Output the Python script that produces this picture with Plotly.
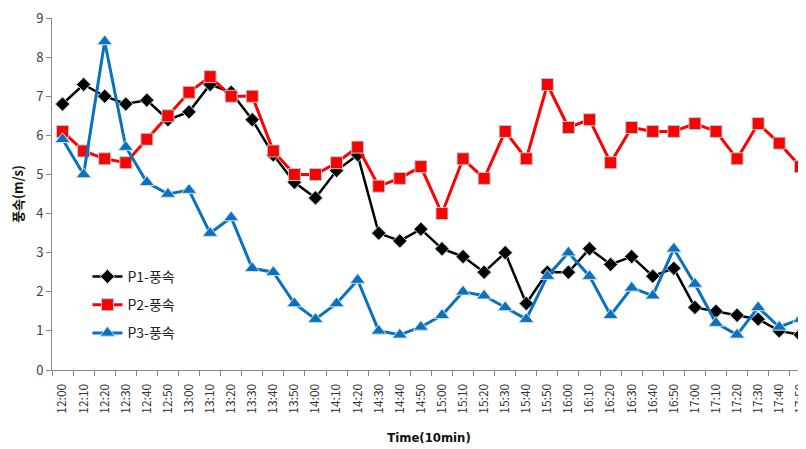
import plotly.graph_objects as go

times = ["12:00","12:10","12:20","12:30","12:40","12:50","13:00","13:10","13:20","13:30","13:40","13:50",
         "14:00","14:10","14:20","14:30","14:40","14:50","15:00","15:10","15:20","15:30","15:40","15:50",
         "16:00","16:10","16:20","16:30","16:40","16:50","17:00","17:10","17:20","17:30","17:40","17:50"]

p1 = [6.8,7.3,7.0,6.8,6.9,6.4,6.6,7.3,7.1,6.4,5.5,4.8,
      4.4,5.1,5.5,3.5,3.3,3.6,3.1,2.9,2.5,3.0,1.7,2.5,
      2.5,3.1,2.7,2.9,2.4,2.6,1.6,1.5,1.4,1.3,1.0,0.9]
p2 = [6.1,5.6,5.4,5.3,5.9,6.5,7.1,7.5,7.0,7.0,5.6,5.0,
      5.0,5.3,5.7,4.7,4.9,5.2,4.0,5.4,4.9,6.1,5.4,7.3,
      6.2,6.4,5.3,6.2,6.1,6.1,6.3,6.1,5.4,6.3,5.8,5.2]
p3 = [5.9,5.0,8.4,5.7,4.8,4.5,4.6,3.5,3.9,2.6,2.5,1.7,
      1.3,1.7,2.3,1.0,0.9,1.1,1.4,2.0,1.9,1.6,1.3,2.4,
      3.0,2.4,1.4,2.1,1.9,3.1,2.2,1.2,0.9,1.6,1.1,1.3]

names = ["P1-풍속", "P2-풍속", "P3-풍속"]
font_fam = "Noto Sans CJK KR, Liberation Sans, sans-serif"

fig = go.Figure()
fig.add_trace(go.Scatter(x=times, y=p1, name=names[0], mode="lines+markers", legendgroup="a",
                         line=dict(color="#000000", width=2.5),
                         marker=dict(symbol="diamond", size=11, color="#000000",
                                     line=dict(color="#b8d4e0", width=1)),
                         cliponaxis=False))
fig.add_trace(go.Scatter(x=times, y=p2, name=names[1], mode="lines+markers", legendgroup="b",
                         line=dict(color="#ff0000", width=3),
                         marker=dict(symbol="square", size=12, color="#ff0000",
                                     line=dict(color="#a8cfd8", width=1)),
                         cliponaxis=False))
fig.add_trace(go.Scatter(x=times, y=p3, name=names[2], mode="lines+markers", legendgroup="c",
                         line=dict(color="#0a70c0", width=3),
                         marker=dict(symbol="triangle-up", size=13, color="#0a70c0",
                                     line=dict(color="#c8e0ea", width=1)),
                         cliponaxis=False))

fig.update_layout(
    width=798, height=443,
    margin=dict(l=44, r=0, t=10, b=81),
    paper_bgcolor="white", plot_bgcolor="white",
    font=dict(family=font_fam, color="#333333"),
    showlegend=True,
    legend=dict(x=0.047, y=0.31, xanchor="left", yanchor="top",
                bgcolor="rgba(0,0,0,0)", font=dict(size=14, color="#222222"),
                tracegroupgap=7, itemwidth=30),
    xaxis=dict(type="category", range=[-0.5, 35.27], showline=True, linecolor="#888888",
               linewidth=1, ticks="outside", ticklen=5, tickcolor="#888888",
               tickson="boundaries", tickangle=-90, showgrid=False, zeroline=False,
               automargin=False, ticklabeloverflow="allow", ticklabelstandoff=8,
               tickfont=dict(size=12, color="#333333"),
               title=dict(text="<b>Time(10min)</b>",
                          font=dict(size=13, color="#111111",
                                    family="Liberation Sans Narrow, DejaVu Sans Condensed, Liberation Sans, sans-serif"),
                          standoff=20)),
    yaxis=dict(range=[0, 9], dtick=1, showline=True, linecolor="#888888", linewidth=1,
               ticks="outside", ticklen=5, tickcolor="#888888", showgrid=False, zeroline=False,
               automargin=False, ticklabeloverflow="allow",
               tickfont=dict(size=13, color="#404040"),
               title=dict(text="<b>풍속(m/s)</b>", font=dict(size=13, color="#111111"), standoff=14)),
)

fig.write_html("out.html")
